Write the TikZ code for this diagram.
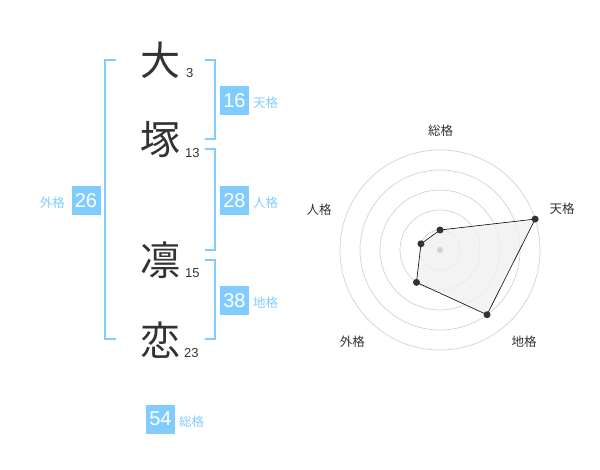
\documentclass[tikz,border=0pt]{standalone}
\usepackage{fontspec}
\setmainfont{Liberation Sans}
\newfontfamily\jp{Noto Sans CJK JP}
\definecolor{kakublue}{RGB}{128,204,255}
\definecolor{inkgray}{RGB}{51,51,51}
\definecolor{ringgray}{RGB}{210,210,210}
\begin{document}
\begin{tikzpicture}[x=1pt,y=-1pt,every node/.style={inner sep=0pt},
 kanji/.style={font=\jp\fontsize{40}{40}\selectfont,text=inkgray},
 strokes/.style={font=\fontsize{13}{13}\selectfont,text=inkgray,anchor=west},
 kaku/.style={fill=kakublue,text=white,minimum size=29pt,font=\fontsize{20}{20}\selectfont},
 kakuname/.style={font=\jp\fontsize{12.5}{12.5}\selectfont,text=kakublue},
 bracket/.style={draw=kakublue,line width=2pt},
 axisname/.style={font=\jp\fontsize{12.5}{12.5}\selectfont,text=inkgray},
 ring/.style={draw=ringgray,line width=0.7pt},
 dot/.style={fill=inkgray}]
 \useasboundingbox (0,0) rectangle (600,470);
 % name
 \node [kanji] (k1) at (160,60) {大};
 \node [kanji] (k2) at (160,140) {塚};
 \node [kanji] (k3) at (160,260) {凛};
 \node [kanji] (k4) at (160,340) {恋};
 \node [strokes] (s1) at (186,73) {3};
 \node [strokes] (s2) at (185,153) {13};
 \node [strokes] (s3) at (185,273) {15};
 \node [strokes] (s4) at (184,353) {23};
 % brackets
 \draw [bracket] (116,60) -- (105,60) -- (105,339) -- (116,339);
 \draw [bracket] (205,60) -- (215,60) -- (215,139) -- (205,139);
 \draw [bracket] (205,149) -- (215,149) -- (215,250) -- (205,250);
 \draw [bracket] (205,260) -- (215,260) -- (215,339) -- (205,339);
 % kaku
 \node [kaku] (ten) at (234.5,100.5) {16};
 \node [kaku] (jin) at (234.5,200.5) {28};
 \node [kaku] (chi) at (234.5,300.5) {38};
 \node [kaku] (gai) at (86,200.5) {26};
 \node [kaku] (so) at (160.5,419) {54};
 \node [kakuname,anchor=west] (ten-l) at (253,103) {天格};
 \node [kakuname,anchor=west] (jin-l) at (253,203) {人格};
 \node [kakuname,anchor=west] (chi-l) at (253,303) {地格};
 \node [kakuname,anchor=east] (gai-l) at (65,203) {外格};
 \node [kakuname,anchor=west] (so-l) at (179,422) {総格};
 % radar
 \begin{scope}[shift={(440,250)},y=1pt]
  \foreach \r in {20,40,...,100}
   \draw [ring] (0,0) circle (\r);
  \coordinate (p-so) at (90:20);
  \coordinate (p-ten) at (18:100);
  \coordinate (p-chi) at (-54:80);
  \coordinate (p-gai) at (-126:40);
  \coordinate (p-jin) at (162:20);
  \draw [fill=black!6,fill opacity=0.8,draw=black,line width=0.6pt] (p-so) -- (p-ten) -- (p-chi) -- (p-gai) -- (p-jin) -- cycle;
  \fill [ringgray] (0,0) circle (3);
  \foreach \p in {p-so,p-ten,p-chi,p-gai,p-jin}
   \fill [dot] (\p) circle (3.5);
  \node [axisname] (a-so) at (0.7,119.3) {総格};
  \node [axisname] (a-ten) at (122,41.7) {天格};
  \node [axisname] (a-jin) at (-120.8,40.7) {人格};
  \node [axisname] (a-gai) at (-87.7,-91.7) {外格};
  \node [axisname] (a-chi) at (84,-91.7) {地格};
 \end{scope}
\end{tikzpicture}
\end{document}
